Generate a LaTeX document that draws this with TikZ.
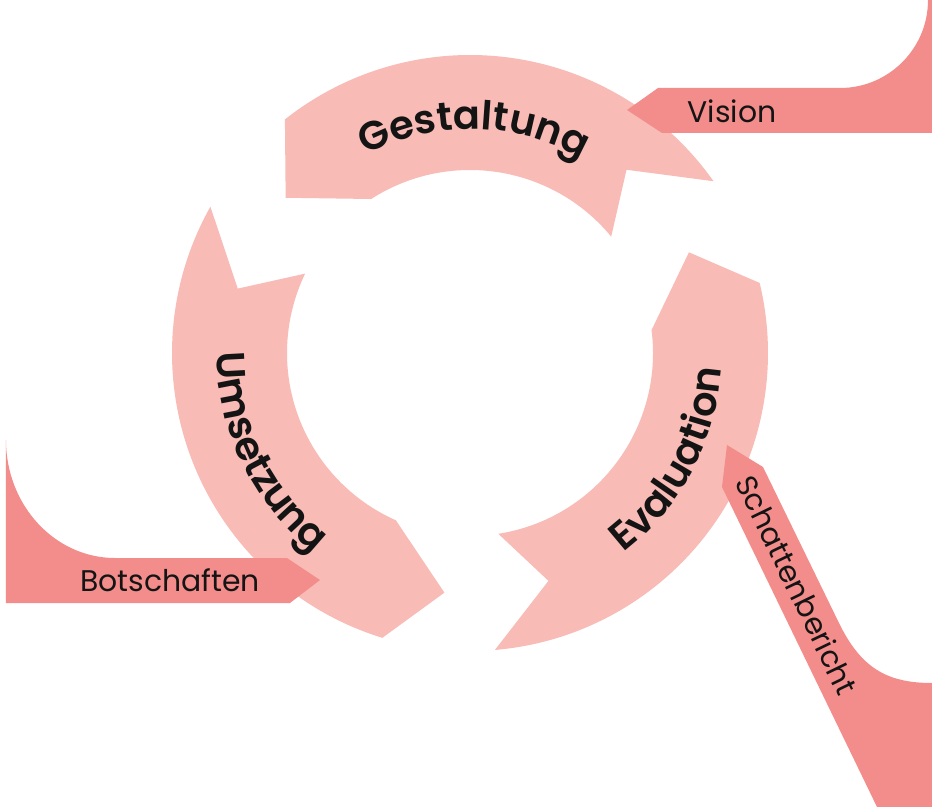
\documentclass[tikz,border=0pt]{standalone}
\usepackage{fontspec}
\setmainfont{Poppins}
\newfontfamily\ringfamily{Poppins SemiBold}
\usetikzlibrary{decorations.text}
\definecolor{ringpink}{RGB}{248,187,182}
\definecolor{feedpink}{RGB}{243,141,139}
\definecolor{ink}{RGB}{20,20,20}
\newcommand{\ringfont}{\fontsize{22.7}{27}\selectfont\ringfamily}

\begin{document}
\begin{tikzpicture}[x=0.02cm, y=0.02cm,
    ring/.style={fill=ringpink},
    feed/.style={fill=feedpink},
    feedlabel/.style={text=ink, font=\fontsize{17}{20}\selectfont, inner sep=0pt},
    ringlabel/.style={decorate, decoration={text along path, text align=center, text color=ink}}
  ]
  \useasboundingbox (-470,-454) rectangle (462,353);

  % cycle arrows: tail outer/notch/inner, head outer/tip/inner
  \foreach \tailo/\notch/\taili/\heado/\tip/\headi in
      {35.2/49.5/39.5/128.4/139.9/122.7,
       150.6/164.5/154.3/252.9/263.9/246.1,
       274.8/289/278.9/373.6/384.7/367.2}
    \fill[ring] (\tailo:298) arc[start angle=\tailo, end angle=\heado, radius=298]
      -- (\tip:241) -- (\headi:183)
      arc[start angle=\headi, end angle=\taili, radius=183]
      -- (\notch:241) -- cycle;

  % inputs
  \fill[feed] (462,353) -- (458,353) arc[start angle=0, end angle=-90, radius=88]
    -- (188,265) -- (157,243) -- (192,220) -- (462,220) -- cycle;
  \fill[feed] (-464,-87) arc[start angle=180, end angle=270, x radius=109, y radius=118]
    -- (-183,-205) -- (-150,-227) -- (-180,-250) -- (-464,-250) -- cycle;
  \fill[feed] (257,-92) -- (293,-114) -- (369,-270)
    .. controls (391,-315) and (417,-330) .. (462,-330)
    -- (462,-454) -- (407,-454) -- (252,-134) -- cycle;

  \node[feedlabel] (vision) at (262,242) {Vision};
  \node[feedlabel] (botschaften) at (-300,-227) {Botschaften};
  \node[feedlabel, rotate=-64.2] (schatten) at (327,-232) {Schattenbericht};

  \path[ringlabel, decoration={text={|\ringfont|Gestaltung}}]
    (134:224) arc[start angle=134, end angle=44, radius=224];
  \path[ringlabel, decoration={text={|\ringfont|Umsetzung}}]
    (176:253) arc[start angle=176, end angle=236, radius=253];
  \path[ringlabel, decoration={text={|\ringfont|Evaluation}}]
    (302:252) arc[start angle=302, end angle=362, radius=252];
\end{tikzpicture}
\end{document}
